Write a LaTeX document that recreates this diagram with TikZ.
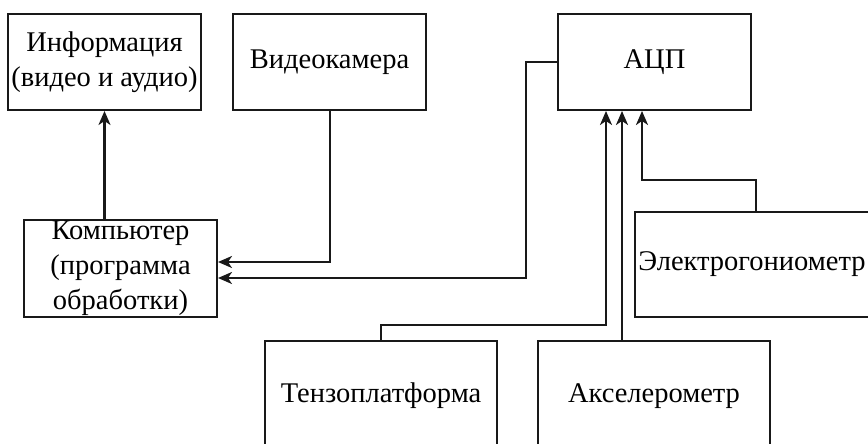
\documentclass[tikz,border=0pt]{standalone}
\usepackage{fontspec}
\setmainfont{Liberation Serif}
\usetikzlibrary{arrows.meta}
\tikzset{
  box/.style={draw=black!90, line width=2pt, fill=white, inner sep=0pt, align=center,
    font=\fontsize{28.5}{35}\selectfont},
  arr/.style={draw=black!90, line width=2.2pt, -{Stealth[length=14pt,width=12pt,inset=4pt]}},
}
\begin{document}
\begin{tikzpicture}[x=1pt,y=-1pt]
\useasboundingbox (0,0) rectangle (868,444);
\fill[white] (0,0) rectangle (868,444);
\clip (0,0) rectangle (868,444);
\node[box, minimum width=193pt, minimum height=96pt] (info) at (104.5,62) {Информация\\(видео и аудио)};
\node[box, minimum width=193pt, minimum height=96pt] (video) at (329.5,62) {Видеокамера};
\node[box, minimum width=193pt, minimum height=96pt] (adc) at (654.5,62) {АЦП};
\node[box, minimum width=193pt, minimum height=97pt] (comp) at (120.5,268.5) {Компьютер\\(программа\\обработки)};
\node[box, minimum width=240pt, minimum height=105pt] (gonio) at (755,264.5) {};
\node[font=\fontsize{28.5}{35}\selectfont, inner sep=0pt] (goniot) at (752,264.5) {Электрогониометр};
\node[box, minimum width=232pt, minimum height=110pt] (tenzo) at (381,396) {Тензоплатформа};
\node[box, minimum width=232pt, minimum height=110pt] (accel) at (654,396) {Акселерометр};
\coordinate (xv) at (330,0);
\coordinate (xa) at (526,0);
\coordinate (xt) at (381,0);
\coordinate (xt2) at (606,0);
\coordinate (xc) at (622,0);
\coordinate (xg) at (756,0);
\coordinate (xg2) at (642,0);
\draw[arr] (comp.north -| info.south) -- (info.south);
\draw[arr] (video.south -| xv) |- ([yshift=6.5pt]comp.east);
\draw[arr] (adc.west) -| (xa |- 0,278) -- ([yshift=-9.5pt]comp.east);
\draw[arr] (tenzo.north -| xt) |- (xt2 |- 0,325) -- (adc.south -| xt2);
\draw[arr] (accel.north -| xc) -- (adc.south -| xc);
\draw[arr] (gonio.north -| xg) |- (xg2 |- 0,180) -- (adc.south -| xg2);
\end{tikzpicture}
\end{document}
